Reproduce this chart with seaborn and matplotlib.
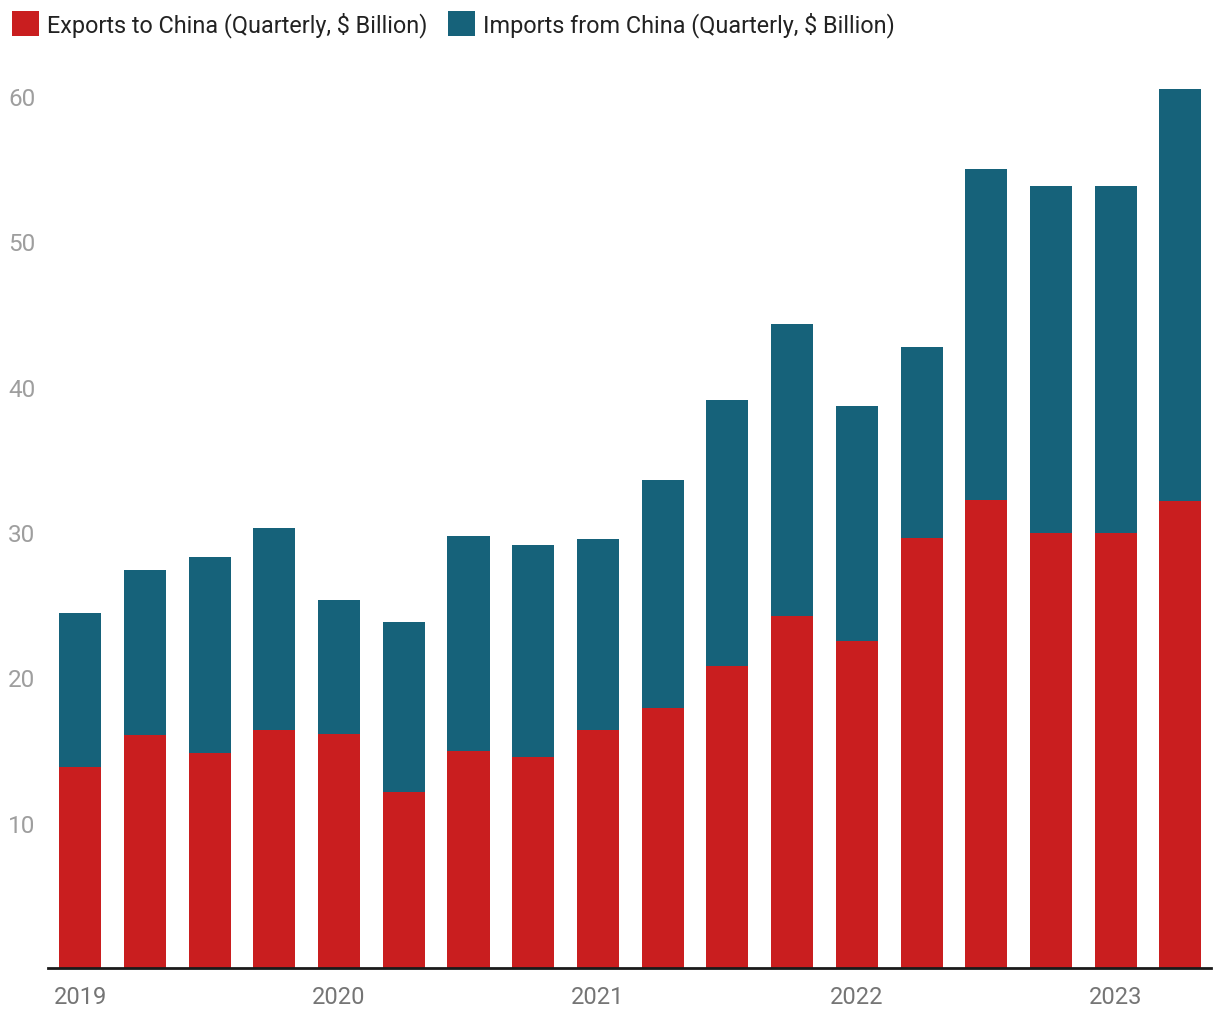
import matplotlib
matplotlib.use("Agg")
import matplotlib.pyplot as plt
import seaborn as sns
import pandas as pd
import numpy as np
from matplotlib.patches import Patch

quarters = ["2019 Q1", "2019 Q2", "2019 Q3", "2019 Q4",
            "2020 Q1", "2020 Q2", "2020 Q3", "2020 Q4",
            "2021 Q1", "2021 Q2", "2021 Q3", "2021 Q4",
            "2022 Q1", "2022 Q2", "2022 Q3", "2022 Q4",
            "2023 Q1", "2023 Q2"]
exports = [13.8, 16.0, 14.8, 16.4, 16.1, 12.1, 14.9, 14.5, 16.4, 17.9,
           20.8, 24.2, 22.5, 29.6, 32.2, 29.9, 29.9, 32.1]
imports = [10.6, 11.4, 13.5, 13.9, 9.2, 11.7, 14.8, 14.6, 13.1, 15.7,
           18.3, 20.1, 16.2, 13.1, 22.8, 23.9, 23.9, 28.4]
tick_labels = ["2019", "2020", "2021", "2022", "2023"]
legend_labels = ["Exports to China (Quarterly, $ Billion)",
                 "Imports from China (Quarterly, $ Billion)"]

RED = "#C91E1F"
TEAL = "#16627A"

sns.set_theme(style="white")
plt.rcParams["font.family"] = ["Roboto", "DejaVu Sans"]

df = pd.DataFrame({"quarter": quarters, "exports": exports, "imports": imports})
df["total"] = df["exports"] + df["imports"]

fig = plt.figure(figsize=(12.2, 10.2), dpi=100)
ax = fig.add_axes([0.0392, 0.05, 0.9533, 0.872])

sns.barplot(data=df, x="quarter", y="total", color=TEAL, width=0.65,
            saturation=1, ax=ax, order=quarters, linewidth=0, edgecolor="none")
sns.barplot(data=df, x="quarter", y="exports", color=RED, width=0.65,
            saturation=1, ax=ax, order=quarters, linewidth=0, edgecolor="none")

ax.set_xlim(-0.5, 17.47)
ax.set_ylim(0, 61.2)
ax.set_xlabel("")
ax.set_ylabel("")
ax.set_yticks([10, 20, 30, 40, 50, 60])
ax.set_yticklabels(["10", "20", "30", "40", "50", "60"])
ax.tick_params(axis="y", colors="#9E9E9E", labelsize=17.5, length=0, pad=9)
ax.set_xticks([0, 4, 8, 12, 16])
ax.set_xticklabels(tick_labels)
ax.tick_params(axis="x", colors="#757575", labelsize=17, length=0, pad=12)
for s in ["top", "right", "left"]:
    ax.spines[s].set_visible(False)
ax.spines["bottom"].set_color("#1a1a1a")
ax.spines["bottom"].set_linewidth(2)
ax.grid(False)

handles = [Patch(facecolor=RED, edgecolor="none"), Patch(facecolor=TEAL, edgecolor="none")]
fig.legend(handles, legend_labels, loc="upper left", bbox_to_anchor=(0.0, 1.0),
           ncol=2, frameon=False, fontsize=16.8, handlelength=1.15, handleheight=1.3,
           handletextpad=0.35, columnspacing=0.9, borderaxespad=0.1,
           labelcolor="#222222")

fig.savefig("out.png", dpi=100, facecolor="white")
